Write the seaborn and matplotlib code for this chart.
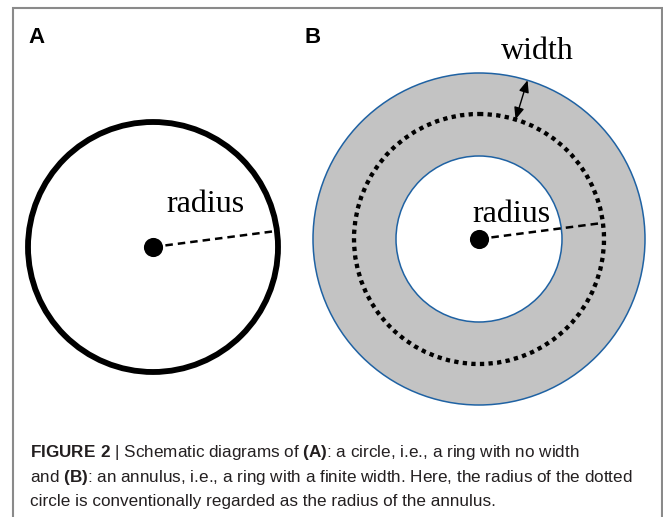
import numpy as np
import matplotlib
matplotlib.use('Agg')
import matplotlib.pyplot as plt
from matplotlib import font_manager
from matplotlib.patches import Circle, Wedge
import seaborn as sns

# geometry (pixel units, y grows downwards)
panel_labels = ['A', 'B']
panel_label_x = [28, 304]
center_x = [153, 479]
center_y = [247, 239]
circle_radius = 125          # panel A
annulus_inner = 83           # panel B
annulus_outer = 166
annulus_mid = 125            # dotted circle
radius_angle = 7.4           # degrees, direction of the dashed radius
width_angle = 73             # degrees, direction of the width arrow
word_labels = ['radius', 'radius', 'width']
word_x = [205, 511, 537]
word_y = [212, 222, 59]

caption_lines = [
    r'$\bf{FIGURE\ 2}$ | Schematic diagrams of $\bf{(A)}$: a circle, i.e., a ring with no width',
    r'and $\bf{(B)}$: an annulus, i.e., a ring with a finite width. Here, the radius of the dotted',
    'circle is conventionally regarded as the radius of the annulus.',
]
caption_y = [457.5, 482, 506]

names = {f.name for f in font_manager.fontManager.ttflist}
cap_font = 'Liberation Sans Narrow' if 'Liberation Sans Narrow' in names else 'Liberation Sans'

sns.set_theme(style='white')
plt.rcParams['font.family'] = ['Liberation Sans', 'DejaVu Sans']
plt.rcParams['mathtext.fontset'] = 'custom'
plt.rcParams['mathtext.rm'] = cap_font
plt.rcParams['mathtext.bf'] = cap_font + ':bold'

fig = plt.figure(figsize=(6.63, 5.17), dpi=100)
ax = fig.add_axes([0, 0, 1, 1])
ax.set_xlim(0, 663)
ax.set_ylim(517, 0)
ax.axis('off')

# frame around the figure
ax.plot([12.5, 12.5, 661.5, 661.5], [517, 8, 8, 517], color='#8a8a8a', lw=1.5,
        solid_joinstyle='miter')

# panel A: plain circle
ax.add_patch(Circle((center_x[0], center_y[0]), circle_radius, fill=False,
                    edgecolor='black', lw=4.2))

# panel B: annulus
ax.add_patch(Wedge((center_x[1], center_y[1]), annulus_outer, 0, 360,
                   width=annulus_outer - annulus_inner, facecolor='#c3c3c3',
                   edgecolor='none'))
ax.add_patch(Circle((center_x[1], center_y[1]), annulus_mid, fill=False,
                    edgecolor='black', lw=3.1, linestyle=(0, (1, 1))))
for r in [annulus_outer, annulus_inner]:
    ax.add_patch(Circle((center_x[1], center_y[1]), r, fill=False,
                        edgecolor='#1f62a3', lw=1.1))

# dashed radius lines
a = np.deg2rad(radius_angle)
for cx, cy, r in zip(center_x, center_y, [circle_radius, annulus_mid]):
    sns.lineplot(x=[cx, cx + r * np.cos(a)], y=[cy, cy - r * np.sin(a)],
                 color='black', lw=1.8, linestyle=(0, (3, 2)), ax=ax)

# centre dots
sns.scatterplot(x=center_x, y=center_y, s=190, color='black', linewidth=0,
                ax=ax, zorder=5)

# width arrow between dotted and outer circle
w = np.deg2rad(width_angle)
p_out = (center_x[1] + annulus_outer * np.cos(w), center_y[1] - annulus_outer * np.sin(w))
p_mid = (center_x[1] + annulus_mid * np.cos(w), center_y[1] - annulus_mid * np.sin(w))
ax.annotate('', xy=p_out, xytext=p_mid,
            arrowprops=dict(arrowstyle='<|-|>,head_length=0.6,head_width=0.25',
                            color='black', lw=1.0, shrinkA=0, shrinkB=0))

for s, x, y in zip(word_labels, word_x, word_y):
    ax.text(x, y, s, family='Liberation Serif', fontsize=23, ha='center',
            va='baseline', color='black')

for s, x in zip(panel_labels, panel_label_x):
    ax.text(x, 43, s, fontsize=16, fontweight='bold', ha='left', va='baseline',
            color='black')

# caption, font size fitted so the second line spans the same width
caps = [ax.text(29.5, y, s, fontsize=11, family=[cap_font, 'DejaVu Sans'],
                ha='left', va='baseline', color='#231f20')
        for s, y in zip(caption_lines, caption_y)]
renderer = fig.canvas.get_renderer()
wd = caps[1].get_window_extent(renderer).width
for t in caps:
    t.set_fontsize(11 * 601 / wd)

fig.savefig('out.png', dpi=100)
